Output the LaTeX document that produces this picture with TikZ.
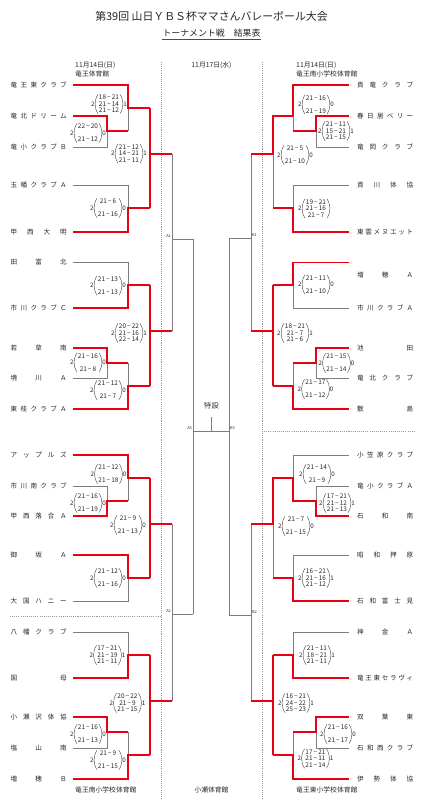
\documentclass[tikz,border=0pt]{standalone}
\usepackage{fontspec}
\setmainfont{Noto Sans CJK JP}
\usetikzlibrary{positioning}
\definecolor{winred}{RGB}{232,0,20}
\definecolor{losegray}{RGB}{125,125,125}
\newlength\pxu
\setlength\pxu{0.3mm}
\newcommand\teamname[1]{\makebox[56\pxu][s]{#1}}
% score block: name, position, left sets, rows, right sets
\newcommand\setscore[5]{%
  \node[score] (#1) at (#2) {#4};
  \node[setnum, left=2.8pt of #1] (#1l) {#3};
  \node[setnum, right=2.8pt of #1] (#1r) {#5};}

\begin{document}
\begin{tikzpicture}[x=0.3mm, y=-0.3mm,
  team/.style={anchor=west, inner sep=0pt, text=black!85, font=\fontsize{5.6}{6}\selectfont},
  paren/.style={draw=black!75, line width=0.35pt},
  score/.style={inner sep=0.6pt, align=center, text=black!85, font=\fontsize{5.5}{5.5}\selectfont,
    append after command={
      (\tikzlastnode.north west) edge[paren, bend right=32] (\tikzlastnode.south west)
      (\tikzlastnode.north east) edge[paren, bend left=32] (\tikzlastnode.south east)}},
  setnum/.style={inner sep=0pt, text=black!85, font=\fontsize{5.3}{5.5}\selectfont},
  info/.style={inner sep=0pt, text=black!85, font=\fontsize{5.8}{6}\selectfont},
  roundtag/.style={inner sep=0.3pt, text=black!80, font=\fontsize{3.4}{4}\selectfont},
  win/.style={draw=winred, line width=1.1pt},
  lose/.style={draw=losegray, line width=0.6pt},
  divider/.style={draw=losegray!80, line width=0.6pt, dash pattern=on 0.9pt off 0.9pt}
]
\useasboundingbox (0,0) rectangle (423,800);

% title
\node[inner sep=0pt, text=black!85, font=\fontsize{9.3}{10}\selectfont] (title) at (211.5,16) {第39回 山日ＹＢＳ杯ママさんバレーボール大会};
\node[inner sep=0pt, text=black!85, font=\fontsize{7.6}{8}\selectfont] (subtitle) at (211.5,33) {トーナメント戦　結果表};
\draw[black!70, line width=0.4pt] ([yshift=-1.2pt]subtitle.south west) -- ([yshift=-1.2pt]subtitle.south east);

% dates and halls
\node[info, anchor=west] (dateL) at (75,65) {11月14日(日)};
\node[info, below right=1.2pt and 0pt of dateL.south west] (hallL) {竜王体育館};
\node[info] (dateC) at (211.5,65) {11月17日(水)};
\node[info, anchor=west] (dateR) at (296,65) {11月14日(日)};
\node[info, below right=1.2pt and 0pt of dateR.south west] (hallR) {竜王南小学校体育館};
\node[info, anchor=west] (hallLB) at (75,790) {竜王南小学校体育館};
\node[info] (hallCB) at (211.5,790) {小瀬体育館};
\node[info, anchor=west] (hallRB) at (296,790) {竜王東小学校体育館};

% dotted dividers
\draw[divider] (161,62) -- (161,800);
\draw[divider] (262,62) -- (262,800);
\draw[divider] (10,616) -- (161,616);
\draw[divider] (262,431) -- (415,431);

% left teams
\node[team] (tL1) at (10.5,85) {\teamname{竜 王 東 ク ラ ブ}};
\node[team] (tL2) at (10.5,116) {\teamname{竜 北 ド リ ー ム}};
\node[team] (tL3) at (10.5,147) {\teamname{竜 小 ク ラ ブ Ｂ}};
\node[team] (tL4) at (10.5,185) {\teamname{玉 幡 ク ラ ブ Ａ}};
\node[team] (tL5) at (10.5,232) {\teamname{甲 西 大 明}};
\node[team] (tL6) at (10.5,262) {\teamname{田 富 北}};
\node[team] (tL7) at (10.5,308) {\teamname{市 川 ク ラ ブ Ｃ}};
\node[team] (tL8) at (10.5,348) {\teamname{若 草 南}};
\node[team] (tL9) at (10.5,378) {\teamname{境 川 Ａ}};
\node[team] (tL10) at (10.5,409) {\teamname{東 桂 ク ラ ブ Ａ}};
\node[team] (tL11) at (10.5,455) {\teamname{ア ッ プ ル ズ}};
\node[team] (tL12) at (10.5,486) {\teamname{市 川 南 ク ラ ブ}};
\node[team] (tL13) at (10.5,516) {\teamname{甲 西 落 合 Ａ}};
\node[team] (tL14) at (10.5,555) {\teamname{御 坂 Ａ}};
\node[team] (tL15) at (10.5,601) {\teamname{大 国 ハ ニ ー}};
\node[team] (tL16) at (10.5,632) {\teamname{八 幡 ク ラ ブ}};
\node[team] (tL17) at (10.5,678) {\teamname{国 母}};
\node[team] (tL18) at (10.5,717) {\teamname{小 瀬 沢 体 協}};
\node[team] (tL19) at (10.5,748) {\teamname{塩 山 南}};
\node[team] (tL20) at (10.5,779) {\teamname{増 穂 Ｂ}};

% right teams
\node[team] (tR1) at (357,85) {\teamname{貢 竜 ク ラ ブ}};
\node[team] (tR2) at (357,116) {\teamname{春 日 居 ベ リ ー}};
\node[team] (tR3) at (357,147) {\teamname{竜 岡 ク ラ ブ}};
\node[team] (tR4) at (357,185) {\teamname{貢 川 体 協}};
\node[team] (tR5) at (357,232) {\teamname{東 雲 メ ヌ エ ッ ト}};
\node[team] (tR6) at (357,275) {\teamname{増 穂 Ａ}};
\node[team] (tR7) at (357,308) {\teamname{市 川 ク ラ ブ Ａ}};
\node[team] (tR8) at (357,348) {\teamname{池 田}};
\node[team] (tR9) at (357,378) {\teamname{竜 北 ク ラ ブ}};
\node[team] (tR10) at (357,409) {\teamname{敷 島}};
\node[team] (tR11) at (357,455) {\teamname{小 笠 原 ク ラ ブ}};
\node[team] (tR12) at (357,486) {\teamname{竜 小 ク ラ ブ Ａ}};
\node[team] (tR13) at (357,516) {\teamname{石 和 南}};
\node[team] (tR14) at (357,555) {\teamname{昭 和 押 原}};
\node[team] (tR15) at (357,601) {\teamname{石 和 富 士 見}};
\node[team] (tR16) at (357,632) {\teamname{神 金 Ａ}};
\node[team] (tR17) at (357,678) {\teamname{竜 王 東 セ ラ ヴ ィ}};
\node[team] (tR18) at (357,717) {\teamname{双 葉 東}};
\node[team] (tR19) at (357,748) {\teamname{石 和 西 ク ラ ブ}};
\node[team] (tR20) at (357,779) {\teamname{伊 勢 体 協}};

% left bracket, losers
\draw[lose] (128,108) -- (128,131);
\draw[lose] (73,147) -- (107,147) -- (107,131);
\draw[lose] (73,185) -- (128,185) -- (128,208);
\draw[lose] (73,262) -- (128,262) -- (128,285);
\draw[lose] (73,378) -- (107,378) -- (107,363);
\draw[lose] (128,363) -- (128,386);
\draw[lose] (73,486) -- (107,486) -- (107,501);
\draw[lose] (128,478) -- (128,501);
\draw[lose] (73,601) -- (128,601) -- (128,578);
\draw[lose] (73,632) -- (128,632) -- (128,655);
\draw[lose] (73,748) -- (107,748) -- (107,732);
\draw[lose] (128,732) -- (128,755);
% right bracket, losers
\draw[lose] (293,116) -- (293,131);
\draw[lose] (349,147) -- (316,147) -- (316,131);
\draw[lose] (349,185) -- (293,185) -- (293,208);
\draw[lose] (273,154) -- (273,208);
\draw[lose] (349,308) -- (293,308) -- (293,285);
\draw[lose] (349,378) -- (316,378) -- (316,363);
\draw[lose] (293,363) -- (293,386);
\draw[lose] (349,455) -- (293,455) -- (293,478);
\draw[lose] (349,486) -- (316,486) -- (316,501);
\draw[lose] (273,524) -- (273,578);
\draw[lose] (349,555) -- (293,555) -- (293,578);
\draw[lose] (349,632) -- (293,632) -- (293,655);
\draw[lose] (349,748) -- (316,748) -- (316,732);
\draw[lose] (293,732) -- (293,755);

% semifinals and final (not yet played)
\draw[lose] (172,154) -- (172,331) (172,239) -- (193,239);
\draw[lose] (172,524) -- (172,701) (172,614) -- (193,614);
\draw[lose] (193,239) -- (193,614) (193,431) -- (229,431);
\draw[lose] (251,154) -- (251,331) (251,238) -- (229,238);
\draw[lose] (251,524) -- (251,701) (251,615) -- (229,615);
\draw[lose] (229,238) -- (229,615);
\node[roundtag, anchor=south east] (a1) at (171.5,238.5) {A1};
\node[roundtag, anchor=south east] (a2) at (171.5,613.5) {A2};
\node[roundtag, anchor=south east] (a3) at (192.5,430.5) {A3};
\node[roundtag, anchor=south west] (b1) at (251.5,237.5) {B1};
\node[roundtag, anchor=south west] (b2) at (251.5,614.5) {B2};
\node[roundtag, anchor=south west] (b3) at (229.5,430.5) {B3};
\node[inner sep=0pt, text=black!80, font=\fontsize{6.2}{7}\selectfont] (special) at (211.5,406) {特設};
\draw[lose] (211.5,417) -- (211.5,431);

% left bracket, winners
\draw[win] (73,85) -- (128,85) -- (128,108) -- (150,108);
\draw[win] (73,116) -- (107,116) -- (107,131) -- (128,131);
\draw[win] (73,232) -- (128,232) -- (128,208) -- (150,208);
\draw[win] (150,108) -- (150,208) (150,154) -- (172,154);
\draw[win] (73,308) -- (128,308) -- (128,285) -- (150,285);
\draw[win] (73,348) -- (107,348) -- (107,363) -- (128,363);
\draw[win] (73,409) -- (128,409) -- (128,386) -- (150,386);
\draw[win] (150,285) -- (150,386) (150,331) -- (172,331);
\draw[win] (73,455) -- (128,455) -- (128,478) -- (150,478);
\draw[win] (73,516) -- (107,516) -- (107,501) -- (128,501);
\draw[win] (73,555) -- (128,555) -- (128,578) -- (150,578);
\draw[win] (150,478) -- (150,578) (150,524) -- (172,524);
\draw[win] (73,678) -- (128,678) -- (128,655) -- (150,655);
\draw[win] (73,717) -- (107,717) -- (107,732) -- (128,732);
\draw[win] (73,779) -- (128,779) -- (128,755) -- (150,755);
\draw[win] (150,655) -- (150,755) (150,701) -- (172,701);
% right bracket, winners
\draw[win] (349,85) -- (293,85) -- (293,116) -- (273,116) -- (273,154) -- (251,154);
\draw[win] (349,116) -- (316,116) -- (316,131) -- (293,131);
\draw[win] (349,232) -- (293,232) -- (293,208) -- (273,208);
\draw[win] (349,262.5) -- (293,262.5) -- (293,285) -- (273,285);
\draw[win] (349,348) -- (316,348) -- (316,363) -- (293,363);
\draw[win] (349,409) -- (293,409) -- (293,386) -- (273,386);
\draw[win] (273,285) -- (273,386) (273,331) -- (251,331);
\draw[win] (349,516) -- (316,516) -- (316,501) -- (293,501) -- (293,478) -- (273,478) -- (273,524) -- (251,524);
\draw[win] (349,601) -- (293,601) -- (293,578) -- (273,578);
\draw[win] (349,678) -- (293,678) -- (293,655) -- (273,655);
\draw[win] (349,717) -- (316,717) -- (316,732) -- (293,732);
\draw[win] (349,779) -- (293,779) -- (293,755) -- (273,755);
\draw[win] (273,655) -- (273,755) (273,701) -- (251,701);

% left scores
\setscore{scL1}{109,104}{2}{18\,−\,21\\21\,−\,14\\21\,−\,12}{1}
\setscore{scL2}{88,133}{2}{22\,−\,20\\[5.5pt]21\,−\,12}{0}
\setscore{scL3}{129,153.5}{2}{21\,−\,12\\14\,−\,21\\21\,−\,11}{1}
\setscore{scL4}{108,208}{2}{21\,−\,6\\[5.5pt]21\,−\,16}{0}
\setscore{scL5}{108,285.5}{2}{21\,−\,13\\[5.5pt]21\,−\,13}{0}
\setscore{scL6}{129,333}{2}{20\,−\,22\\21\,−\,16\\22\,−\,14}{1}
\setscore{scL7}{88,362.5}{2}{21\,−\,16\\[5.5pt]21\,−\,8}{0}
\setscore{scL8}{108,390}{2}{21\,−\,12\\[5.5pt]21\,−\,7}{0}
\setscore{scL9}{108.5,474}{2}{21\,−\,12\\[5.5pt]21\,−\,18}{0}
\setscore{scL10}{88,503}{2}{21\,−\,16\\[5.5pt]21\,−\,19}{0}
\setscore{scL11}{128,525}{2}{21\,−\,9\\[5.5pt]21\,−\,13}{0}
\setscore{scL12}{108,578}{2}{21\,−\,12\\[5.5pt]21\,−\,16}{0}
\setscore{scL13}{107.5,655}{2}{17\,−\,21\\21\,−\,19\\21\,−\,11}{1}
\setscore{scL14}{127.5,703}{2}{20\,−\,22\\21\,−\,9\\21\,−\,15}{1}
\setscore{scL15}{88,734}{2}{21\,−\,16\\[5.5pt]21\,−\,13}{0}
\setscore{scL16}{108,760}{2}{21\,−\,9\\[5.5pt]21\,−\,15}{0}
% right scores
\setscore{scR1}{316,104.5}{2}{21\,−\,16\\[5.5pt]21\,−\,19}{0}
\setscore{scR2}{336,131}{2}{21\,−\,11\\15\,−\,21\\21\,−\,15}{1}
\setscore{scR3}{295,155}{2}{21\,−\,5\\[5.5pt]21\,−\,10}{0}
\setscore{scR4}{316,208.5}{2}{19\,−\,21\\21\,−\,16\\21\,−\,7}{}
\setscore{scR5}{316,284.5}{2}{21\,−\,11\\[5.5pt]21\,−\,10}{0}
\setscore{scR6}{295,333}{2}{18\,−\,21\\21\,−\,7\\21\,−\,6}{1}
\setscore{scR7}{336.5,363}{2}{21\,−\,15\\[5.5pt]21\,−\,14}{0}
\setscore{scR8}{315.5,389}{2}{21\,−\,17\\[5.5pt]21\,−\,12}{0}
\setscore{scR9}{317,474}{2}{21\,−\,14\\[5.5pt]21\,−\,9}{0}
\setscore{scR10}{337,503}{2}{17\,−\,21\\21\,−\,12\\21\,−\,13}{1}
\setscore{scR11}{296,526}{2}{21\,−\,7\\[5.5pt]21\,−\,15}{0}
\setscore{scR12}{316,578}{2}{16\,−\,21\\21\,−\,16\\21\,−\,12}{1}
\setscore{scR13}{317,655}{2}{21\,−\,11\\18\,−\,21\\21\,−\,11}{1}
\setscore{scR14}{296,703}{2}{16\,−\,21\\24\,−\,22\\25\,−\,23}{1}
\setscore{scR15}{338,734}{2}{21\,−\,16\\[5.5pt]21\,−\,17}{0}
\setscore{scR16}{315.5,758.5}{2}{17\,−\,21\\21\,−\,11\\21\,−\,14}{1}
\end{tikzpicture}
\end{document}
